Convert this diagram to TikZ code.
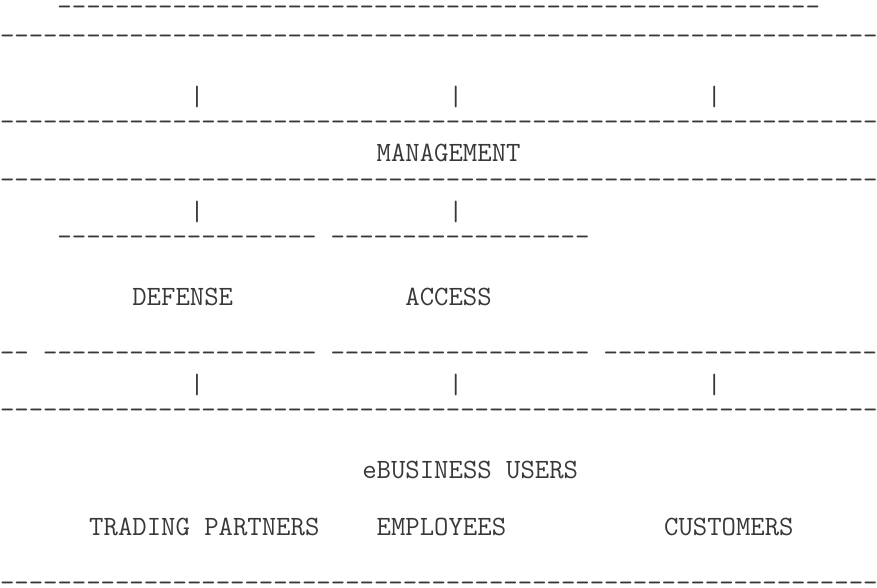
\documentclass[tikz,border=0pt]{standalone}
\ExplSyntaxOn
\NewDocumentCommand\dashrun{m}{\prg_replicate:nn{#1}{-\kern0pt}}
\ExplSyntaxOff
\tikzset{
  asc/.style={anchor=base west, inner sep=0pt, outer sep=0pt, text=black!78,
    font=\ttfamily\fontsize{20.95pt}{24pt}\selectfont},
  ascword/.style={asc, xshift=2.25pt, yshift=-1.5pt},
  ascpipe/.style={asc, xshift=2.25pt, yshift=-2.5pt},
}
% column c, row r  ->  x = 14.372 c,  baseline y = 15.5 + 28.8 r  (pixels)
\newcommand\asciiat[5][asc]{\node[#1] (#2) at ({#3*14.372},{15.5+#4*28.8}) {#5};}
\begin{document}
\begin{tikzpicture}[x=0.75pt,y=-0.75pt]
\useasboundingbox (0,0) rectangle (877,587);
% row 0-1
\asciiat{topbar}{4}{0}{\dashrun{53}}
\asciiat{fullA}{0}{1}{\dashrun{61}}
% row 3 pipes
\asciiat[ascpipe]{pA1}{13}{3}{|}
\asciiat[ascpipe]{pA2}{31}{3}{|}
\asciiat[ascpipe]{pA3}{49}{3}{|}
% management
\asciiat{fullB}{0}{4}{\dashrun{61}}
\asciiat[ascword]{mgmt}{26}{5}{MANAGEMENT}
\asciiat{fullC}{0}{6}{\dashrun{61}}
% row 7 pipes
\asciiat[ascpipe]{pB1}{13}{7}{|}
\asciiat[ascpipe]{pB2}{31}{7}{|}
% row 8
\asciiat{defTop}{4}{8}{\dashrun{18}}
\asciiat{accTop}{23}{8}{\dashrun{18}}
% row 10
\asciiat[ascword]{defense}{9}{10}{DEFENSE}
\asciiat[ascword]{access}{28}{10}{ACCESS}
% row 12
\asciiat{bot0}{0}{12}{\dashrun{2}}
\asciiat{bot1}{3}{12}{\dashrun{19}}
\asciiat{bot2}{23}{12}{\dashrun{18}}
\asciiat{bot3}{42}{12}{\dashrun{19}}
% row 13 pipes
\asciiat[ascpipe]{pC1}{13}{13}{|}
\asciiat[ascpipe]{pC2}{31}{13}{|}
\asciiat[ascpipe]{pC3}{49}{13}{|}
% users
\asciiat{fullD}{0}{14}{\dashrun{61}}
\asciiat[ascword]{users}{25}{16}{eBUSINESS USERS}
\asciiat[ascword]{partners}{6}{18}{TRADING PARTNERS}
\asciiat[ascword]{employees}{26}{18}{EMPLOYEES}
\asciiat[ascword]{customers}{46}{18}{CUSTOMERS}
\asciiat{fullE}{0}{20}{\dashrun{61}}
\end{tikzpicture}
\end{document}
